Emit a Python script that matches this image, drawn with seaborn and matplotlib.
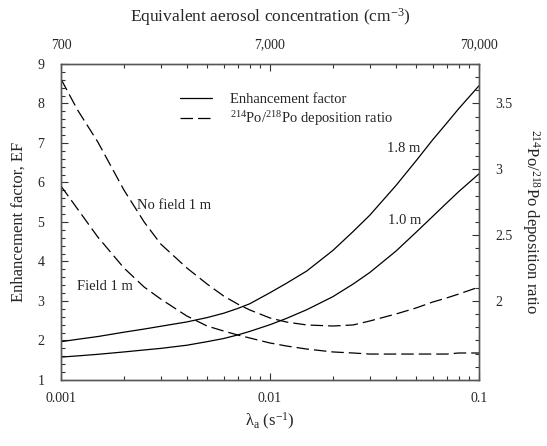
import numpy as np
import pandas as pd
import matplotlib
matplotlib.use("Agg")
import matplotlib.pyplot as plt
import seaborn as sns
from matplotlib.ticker import FixedLocator, FixedFormatter, NullFormatter, MultipleLocator
from matplotlib.lines import Line2D

# ---------------- data ----------------
lam = [0.001, 0.0012, 0.0015, 0.002, 0.0025, 0.003, 0.004, 0.005, 0.006, 0.007,
       0.008, 0.01, 0.012, 0.015, 0.02, 0.025, 0.03, 0.04, 0.05, 0.06, 0.07, 0.08, 0.1]

ef_18m = [1.97, 2.03, 2.10, 2.21, 2.29, 2.36, 2.47, 2.58, 2.69, 2.81, 2.93, 3.21,
          3.45, 3.76, 4.28, 4.76, 5.17, 5.92, 6.55, 7.08, 7.50, 7.87, 8.45]
ef_10m = [1.58, 1.61, 1.65, 1.71, 1.76, 1.80, 1.88, 1.97, 2.05, 2.14, 2.23, 2.40,
          2.56, 2.78, 3.11, 3.43, 3.72, 4.26, 4.74, 5.14, 5.48, 5.77, 6.22]

ratio_nofield = [3.686, 3.451, 3.208, 2.843, 2.600, 2.433, 2.251, 2.129, 2.038, 1.977,
                 1.932, 1.871, 1.840, 1.818, 1.810, 1.818, 1.848, 1.901, 1.947, 1.992,
                 2.023, 2.053, 2.106]
ratio_field = [2.873, 2.699, 2.486, 2.251, 2.106, 2.015, 1.886, 1.810, 1.772, 1.742,
               1.719, 1.681, 1.658, 1.635, 1.613, 1.605, 1.597, 1.597, 1.597, 1.597,
               1.597, 1.605, 1.605]

conc_ticks = [700, 7000, 70000]
conc_labels = ["700", "7,000", "70,000"]
lam_ticks = [0.001, 0.01, 0.1]
lam_labels = ["0.001", "0.01", "0.1"]
ef_ticks = [1, 2, 3, 4, 5, 6, 7, 8, 9]
ratio_ticks = [2, 2.5, 3, 3.5]
ratio_labels = ["2", "2.5", "3", "3.5"]

# ---------------- style ----------------
sns.set_style("ticks")
plt.rcParams["font.family"] = ["Liberation Serif", "DejaVu Serif"]
plt.rcParams["mathtext.fontset"] = "custom"
plt.rcParams["mathtext.rm"] = "Liberation Serif"
plt.rcParams["mathtext.it"] = "Liberation Serif:italic"
plt.rcParams["axes.edgecolor"] = "#555555"
plt.rcParams["axes.linewidth"] = 0.9

fig = plt.figure(figsize=(5.47, 4.46), dpi=100)
ax = fig.add_axes([0.1115, 0.148, 0.7642, 0.7085])

df_ef = pd.DataFrame({"lam": lam * 2,
                      "EF": ef_18m + ef_10m,
                      "height": ["1.8 m"] * len(lam) + ["1.0 m"] * len(lam)})
df_r = pd.DataFrame({"lam": lam * 2,
                     "ratio": ratio_nofield + ratio_field,
                     "case": ["No field"] * len(lam) + ["Field"] * len(lam)})

dash = (0, (10, 4))
lw = 0.9
sns.lineplot(data=df_ef, x="lam", y="EF", units="height", estimator=None,
             color="black", lw=lw, ax=ax, legend=False)
ax.set_xscale("log")
ax.set_xlim(0.001, 0.1)
ax.set_ylim(1, 9)

axr = ax.twinx()
for case in ["No field", "Field"]:
    sub = df_r[df_r["case"] == case]
    sns.lineplot(data=sub, x="lam", y="ratio", estimator=None, color="black",
                 lw=lw, ax=axr, legend=False, linestyle=dash)
axr.set_ylim(1.4, 3.8)

axt = ax.twiny()
axt.set_xscale("log")
axt.set_xlim(700, 70000)

# ---------------- ticks ----------------
tick_kw = dict(direction="in", color="#333333", width=0.8)
ax.tick_params(axis="both", which="major", length=5, labelsize=10, **tick_kw)
ax.tick_params(axis="both", which="minor", length=3, **tick_kw)
ax.tick_params(axis="x", pad=9)
ax.tick_params(axis="y", pad=12)
ax.yaxis.set_major_locator(FixedLocator(ef_ticks))
ax.yaxis.set_minor_locator(MultipleLocator(0.2))
ax.xaxis.set_major_locator(FixedLocator(lam_ticks))
ax.xaxis.set_major_formatter(FixedFormatter(lam_labels))
ax.xaxis.set_minor_locator(FixedLocator([m * 10.0 ** e for e in (-3, -2) for m in range(2, 10)]))
ax.xaxis.set_minor_formatter(NullFormatter())
ax.set_xlabel("λ$_\\mathrm{a}$ (s$^{-1}$)", fontsize=12, labelpad=4)
ax.set_ylabel("Enhancement factor, EF", fontsize=12, labelpad=8)

axr.tick_params(axis="y", which="major", length=5, labelsize=10, pad=12, **tick_kw)
axr.tick_params(axis="y", which="minor", length=3, **tick_kw)
axr.yaxis.set_major_locator(FixedLocator(ratio_ticks))
axr.yaxis.set_major_formatter(FixedFormatter(ratio_labels))
axr.yaxis.set_minor_locator(MultipleLocator(0.1))
axr.set_ylabel("$^{214}$Po/$^{218}$Po deposition ratio", fontsize=12,
               rotation=270, labelpad=21)

axt.tick_params(axis="x", which="major", length=5, labelsize=10, pad=9, **tick_kw)
axt.tick_params(axis="x", which="minor", length=3, **tick_kw)
axt.xaxis.set_major_locator(FixedLocator(conc_ticks))
axt.xaxis.set_major_formatter(FixedFormatter(conc_labels))
axt.xaxis.set_minor_locator(FixedLocator([m * 700.0 * 10 ** e for e in (0, 1) for m in range(2, 10)]))
axt.xaxis.set_minor_formatter(NullFormatter())
axt.set_xlabel("Equivalent aerosol concentration (cm$^{-3}$)", fontsize=12.5, labelpad=12)

# ---------------- legend & annotations ----------------
handles = [Line2D([], [], color="black", lw=lw),
           Line2D([], [], color="black", lw=lw, linestyle=dash)]
ax.legend(handles, ["Enhancement factor", "$^{214}$Po/$^{218}$Po deposition ratio"],
          loc="upper left", bbox_to_anchor=(0.254, 0.95), frameon=False,
          fontsize=10.5, handlelength=2.2, handletextpad=1.2, labelspacing=0.2)

ax.text(0.001 * 10 ** (75.7 / 209), 5.43, "No field 1 m", fontsize=10.5, va="center")
ax.text(0.001 * 10 ** (16 / 209), 3.37, "Field 1 m", fontsize=10.5, va="center")
ax.text(0.001 * 10 ** (325.7 / 209), 6.87, "1.8 m", fontsize=10.5, va="center")
ax.text(0.001 * 10 ** (327 / 209), 5.05, "1.0 m", fontsize=10.5, va="center")

fig.savefig("out.png", dpi=100)
